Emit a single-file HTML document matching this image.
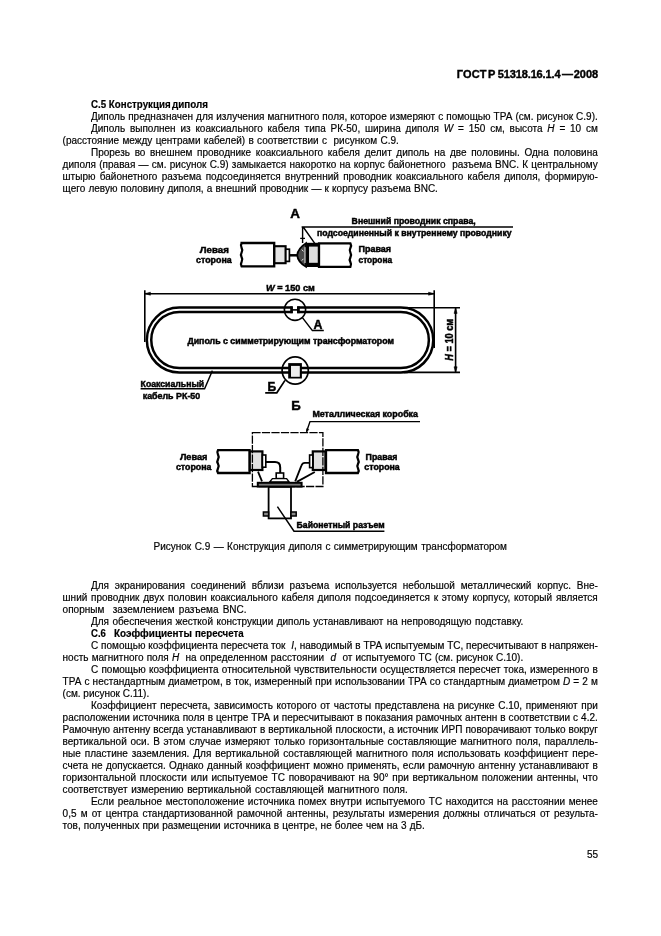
<!DOCTYPE html>
<html lang="ru"><head><meta charset="utf-8"><title>ГОСТ Р 51318.16.1.4—2008</title>
<style>
html,body{margin:0;padding:0;background:#fff;}
body{width:661px;height:936px;position:relative;overflow:hidden;font-family:"Liberation Sans",sans-serif;color:#000;-webkit-text-stroke:0.18px #000;}
.l{position:absolute;white-space:nowrap;line-height:12.0px;font-size:10px;}
.b{font-weight:bold;}
svg{position:absolute;left:0;top:0;will-change:transform;}
svg text{font-family:"Liberation Sans",sans-serif;font-weight:bold;fill:#000;stroke:#000;stroke-width:0.45px;}
#t{position:absolute;left:0;top:0;width:661px;height:936px;will-change:transform;}
</style></head><body>
<svg width="661" height="936" viewBox="0 0 661 936">
<g fill="none" stroke="#000" stroke-linecap="butt" stroke-linejoin="miter">
<!-- ===== dipole loop ===== -->
<path d="M179.3 309.8 H400.8 A30.25 30.25 0 0 1 400.8 370.3 H179.3 A30.25 30.25 0 0 1 179.3 309.8 Z" stroke-width="6.9"/>
<path d="M179.3 309.8 H400.8 A30.25 30.25 0 0 1 400.8 370.3 H179.3 A30.25 30.25 0 0 1 179.3 309.8 Z" stroke="#fff" stroke-width="1.9"/>
<!-- W dimension -->
<path d="M144.8 290.3 V342 M434.2 290.3 V348 M144.8 293.7 H434.2" stroke-width="1.6"/>
<path d="M145 293.7 l5.4 -1.5 v3 z M434 293.7 l-5.4 -1.5 v3 z" fill="#000" stroke-width="0.6"/>
<!-- H dimension -->
<path d="M404 307.8 H460 M404 372.4 H460 M455.6 307.7 V372.4" stroke-width="1.6"/>
<path d="M455.6 308 l-1.5 5.4 h3 z M455.6 372.2 l-1.5 -5.4 h3 z" fill="#000" stroke-width="0.6"/>
<!-- circle A -->
<rect x="292.6" y="305" width="4.6" height="9.6" fill="#fff" stroke="none"/>
<rect x="290.2" y="306.4" width="2.7" height="6.8" fill="#000" stroke="none"/>
<rect x="297" y="306.4" width="2.8" height="6.8" fill="#000" stroke="none"/>
<path d="M292 309.9 H298" stroke-width="1.6"/>
<circle cx="295" cy="309.8" r="10.6" stroke-width="1.6"/>
<path d="M302.4 317.6 L312.4 330.6 H323.8" stroke-width="1.5"/>
<!-- circle B -->
<ellipse cx="295.2" cy="370.5" rx="13.1" ry="13.6" stroke-width="1.7"/>
<rect x="288.2" y="363.1" width="13.7" height="15.4" fill="#000" stroke="none"/><rect x="291" y="365.9" width="8.8" height="10.9" fill="#eee" stroke="none"/>
<path d="M285 380.4 L276.8 392.8 H265.2" stroke-width="1.7"/>
<!-- coax leader -->
<path d="M140.6 388.8 H204.6 L212.4 370.6" stroke-width="1.4"/>
</g>
<g>
<text x="266" y="291.4" font-size="9.4" textLength="48.8" lengthAdjust="spacingAndGlyphs"><tspan font-style="italic">W</tspan> = 150 см</text>
<text x="187.4" y="343.9" font-size="8.6" textLength="206.6" lengthAdjust="spacingAndGlyphs">Диполь с симметрирующим трансформатором</text>
<text x="313.6" y="328.8" font-size="12.4">А</text>
<text x="267.6" y="390.9" font-size="12">Б</text>
<text x="140.6" y="387.3" font-size="8.7">Коаксиальный</text>
<text x="142.7" y="399.1" font-size="8.9">кабель РК-50</text>
<text transform="translate(453.3 360.8) rotate(-90)" font-size="10" textLength="42" lengthAdjust="spacingAndGlyphs"><tspan font-style="italic">H</tspan> = 10 см</text>
</g>
<!-- ===== view A ===== -->
<text x="290.2" y="218" font-size="13.4">А</text>
<g fill="none" stroke="#000">
<path d="M351.8 227 H513" stroke-width="1.4"/>
<path d="M301.6 227 H352 M302.6 227 V243 M303.2 227 L315.3 244.2" stroke-width="1.4"/>
<path d="M300.2 238.4 H305" stroke-width="1.3"/>
<!-- left cable -->
<path d="M241.6 243 H274.2 V266.4 H241.6 q-1.4 -2.4 0 -4.6 q1.4 -2.4 0 -4.6 q-1.4 -2.4 0 -4.7 q1.4 -2.4 0 -4.7 q-1.4 -2.4 0 -4.6 z" fill="#fff" stroke-width="2.3"/>
<rect x="274.4" y="246.2" width="11.2" height="17" fill="#e4e4e4" stroke-width="2.1"/>
<rect x="285.8" y="249.2" width="3.6" height="12.2" fill="#fff" stroke-width="1.7"/>
<path d="M289.6 255.3 H298" stroke-width="2.5"/>
<!-- dome -->
<path d="M306 243.2 C301 246.4 297.6 251 297.2 255.2 C297.6 259.6 301 264 306 266.8 Z" fill="#484848" stroke-width="1.8"/>
<path d="M305 247.2 V263 M301.8 249.6 l1.6 1.8 M301.8 260.6 l1.6 -1.8" stroke="#fff" stroke-width="0.9"/>
<!-- right narrow piece & cable -->
<rect x="306.2" y="242.8" width="13.6" height="24.2" fill="#000" stroke="none"/><rect x="309" y="246.6" width="8.9" height="16.2" fill="#dcdcdc" stroke="none"/>
<path d="M319 243.3 H350.4 q1.4 2.4 0 4.7 q-1.4 2.4 0 4.7 q1.4 2.4 0 4.7 q-1.4 2.4 0 4.7 q1.4 2.4 0 4.7 H319 z" fill="#fff" stroke-width="2.3"/>
</g>
<g>
<text x="351.6" y="223.9" font-size="8.7" textLength="124.2" lengthAdjust="spacingAndGlyphs">Внешний проводник справа,</text>
<text x="317" y="236.1" font-size="8.7" textLength="194.6" lengthAdjust="spacingAndGlyphs">подсоединенный к внутреннему проводнику</text>
<text x="199.8" y="252.8" font-size="8.8" textLength="29" lengthAdjust="spacingAndGlyphs">Левая</text>
<text x="196.1" y="262.8" font-size="8.8" textLength="35.6" lengthAdjust="spacingAndGlyphs">сторона</text>
<text x="358.5" y="251.8" font-size="8.8" textLength="32.6" lengthAdjust="spacingAndGlyphs">Правая</text>
<text x="358.5" y="263" font-size="8.8" textLength="33.6" lengthAdjust="spacingAndGlyphs">сторона</text>
</g>
<!-- ===== view B ===== -->
<text x="291.2" y="409.6" font-size="13.2">Б</text>
<g fill="none" stroke="#000">
<path d="M420 421.6 H310 L306.6 431.6" stroke-width="1.4"/>
<path d="M306.4 432.2 l0.4 -3.6 l2 0.8 z" fill="#000" stroke-width="0.6"/>
<!-- left cable -->
<path d="M218 450.2 H249.6 V473 H218 q-1.4 -2.4 0 -4.6 q1.4 -2.3 0 -4.5 q-1.4 -2.3 0 -4.6 q1.4 -2.3 0 -4.6 q-1.4 -2.3 0 -4.5 z" fill="#fff" stroke-width="2.3"/>
<rect x="249.8" y="451.4" width="12.6" height="18.6" fill="#e0e0e0" stroke-width="2.2"/>
<rect x="262.4" y="455" width="3.4" height="12.2" fill="#fff" stroke-width="1.6"/>
<!-- right cable -->
<path d="M326 450.2 H358 q1.4 2.3 0 4.5 q-1.4 2.3 0 4.6 q1.4 2.3 0 4.6 q-1.4 2.3 0 4.5 q1.4 2.4 0 4.6 H326 z" fill="#fff" stroke-width="2.3"/>
<rect x="312.8" y="451.4" width="12.6" height="18.6" fill="#e0e0e0" stroke-width="2.2"/>
<rect x="309.6" y="455" width="3.2" height="12.6" fill="#fff" stroke-width="1.6"/>
<rect x="252.4" y="432.7" width="70.5" height="53.8" stroke-width="1.3" stroke-dasharray="8.2 1.3"/>
<!-- wires -->
<path d="M265.8 462 H275 Q280.2 462 280.2 467.4 V473" stroke-width="2"/>
<path d="M309.6 462.8 H304.8 Q302.4 462.8 301.4 465.6 L295.2 481.4" stroke-width="1.8"/>
<path d="M314.8 472 L296.8 481.8" stroke-width="1.9"/>
<path d="M258 471.6 L262 481.4" stroke-width="1.8"/>
<!-- connector -->
<rect x="276.2" y="473" width="7.4" height="5.6" fill="#fff" stroke-width="1.6"/>
<path d="M272.4 478.6 H286.6 L289.2 482 H269.6 Z" fill="#fff" stroke-width="1.4"/>
<rect x="257.8" y="482.8" width="43.8" height="3.8" fill="#777" stroke-width="2"/>
<rect x="268.6" y="487" width="22.4" height="31.4" fill="#fff" stroke-width="1.8"/>
<rect x="263.4" y="512" width="5.2" height="4" fill="#888" stroke-width="1.5"/>
<rect x="291" y="512" width="5.2" height="4" fill="#888" stroke-width="1.5"/>
<path d="M277.4 506.6 L294 531.2 H384.4" stroke-width="1.5"/>
</g>
<g>
<text x="312.4" y="417.2" font-size="8.9">Металлическая коробка</text>
<text x="179.9" y="459.6" font-size="8.8" textLength="27.6" lengthAdjust="spacingAndGlyphs">Левая</text>
<text x="175.9" y="469.7" font-size="8.8" textLength="35.6" lengthAdjust="spacingAndGlyphs">сторона</text>
<text x="365.6" y="459.6" font-size="8.8">Правая</text>
<text x="364.3" y="469.7" font-size="8.8">сторона</text>
<text x="296.6" y="528.4" font-size="8.7" textLength="88" lengthAdjust="spacingAndGlyphs">Байонетный разъем</text>
</g>
</svg>

<div id="t">
<div class="l b" style="left:456.70px;top:68.19px;font-size:11.0px;-webkit-text-stroke-width:0.4px;letter-spacing:0.213px;">ГОСТ</div>
<div class="l b" style="left:497.80px;top:68.19px;font-size:11.0px;-webkit-text-stroke-width:0.4px;letter-spacing:-0.136px;">51318.16.1.4</div>
<div class="l b" style="left:487.90px;top:68.19px;font-size:11.0px;-webkit-text-stroke-width:0.4px;">Р</div>
<div class="l b" style="left:561.90px;top:68.19px;font-size:11.0px;-webkit-text-stroke-width:0.4px;">—</div>
<div class="l b" style="left:573.70px;top:68.19px;font-size:11.0px;-webkit-text-stroke-width:0.4px;">2008</div>
<div class="l b" style="left:91.00px;top:98.94px;transform-origin:0 0;transform:scaleX(0.9739);">С.5 Конструкция</div>
<div class="l" style="left:91.00px;top:110.88px;word-spacing:0.267px;">Диполь предназначен для излучения магнитного поля, которое измеряют с помощью ТРА (см. рисунок С.9).</div>
<div class="l" style="left:91.00px;top:122.81px;word-spacing:2.004px;">Диполь выполнен из коаксиального кабеля типа РК-50, ширина диполя <i>W</i> = 150 см, высота <i>H</i> = 10 см</div>
<div class="l" style="left:62.60px;top:134.75px;word-spacing:0.533px;">(расстояние между центрами кабелей) в соответствии с&nbsp; рисунком С.9.</div>
<div class="l" style="left:91.00px;top:146.69px;word-spacing:1.856px;">Прорезь во внешнем проводнике коаксиального кабеля делит диполь на две половины. Одна половина</div>
<div class="l" style="left:62.60px;top:158.63px;word-spacing:0.485px;">диполя (правая — см. рисунок С.9) замыкается накоротко на корпус байонетного&nbsp; разъема BNC. К центральному</div>
<div class="l" style="left:62.60px;top:170.58px;word-spacing:1.550px;">штырю байонетного разъема подсоединяется внутренний проводник коаксиального кабеля диполя, формирую-</div>
<div class="l" style="left:62.60px;top:182.52px;word-spacing:0.391px;">щего левую половину диполя, а внешний проводник — к корпусу разъема BNC.</div>
<div class="l b" style="left:172.20px;top:98.94px;transform-origin:0 0;transform:scaleX(0.9838);">диполя</div>
<div class="l" style="left:153.50px;top:540.93px;word-spacing:0.650px;">Рисунок С.9 — Конструкция диполя с симметрирующим трансформатором</div>
<div class="l" style="left:91.00px;top:580.24px;word-spacing:3.016px;">Для экранирования соединений вблизи разъема используется небольшой металлический корпус. Вне-</div>
<div class="l" style="left:62.60px;top:592.21px;word-spacing:0.998px;">шний проводник двух половин коаксиального кабеля диполя подсоединяется к этому корпусу, который является</div>
<div class="l" style="left:62.60px;top:604.19px;word-spacing:1.449px;">опорным&nbsp; заземлением разъема BNC.</div>
<div class="l" style="left:91.00px;top:616.16px;word-spacing:0.630px;">Для обеспечения жесткой конструкции диполь устанавливают на непроводящую подставку.</div>
<div class="l b" style="left:91.00px;top:628.13px;transform-origin:0 0;transform:scaleX(0.9574);">С.6</div>
<div class="l" style="left:91.00px;top:640.11px;word-spacing:0.083px;">С помощью коэффициента пересчета ток&nbsp; <i>I</i>, наводимый в ТРА испытуемым ТС, пересчитывают в напряжен-</div>
<div class="l" style="left:62.60px;top:652.09px;word-spacing:0.413px;">ность магнитного поля <i>H</i>&nbsp; на определенном расстоянии&nbsp; <i>d</i>&nbsp; от испытуемого ТС (см. рисунок С.10).</div>
<div class="l" style="left:91.00px;top:664.06px;word-spacing:0.426px;">С помощью коэффициента относительной чувствительности осуществляется пересчет тока, измеренного в</div>
<div class="l" style="left:62.60px;top:676.03px;word-spacing:0.338px;">ТРА с нестандартным диаметром, в ток, измеренный при использовании ТРА со стандартным диаметром <i>D</i> = 2 м</div>
<div class="l" style="left:62.60px;top:688.01px;word-spacing:-0.020px;">(см. рисунок С.11).</div>
<div class="l" style="left:91.00px;top:699.99px;word-spacing:0.871px;">Коэффициент пересчета, зависимость которого от частоты представлена на рисунке С.10, применяют при</div>
<div class="l" style="left:62.60px;top:711.96px;word-spacing:0.213px;">расположении источника поля в центре ТРА и пересчитывают в показания рамочных антенн в соответствии с 4.2.</div>
<div class="l" style="left:62.60px;top:723.94px;word-spacing:0.301px;">Рамочную антенну всегда устанавливают в вертикальной плоскости, а источник ИРП поворачивают только вокруг</div>
<div class="l" style="left:62.60px;top:735.91px;word-spacing:0.977px;">вертикальной оси. В этом случае измеряют только горизонтальные составляющие магнитного поля, параллель-</div>
<div class="l" style="left:62.60px;top:747.88px;word-spacing:1.126px;">ные пластине заземления. Для вертикальной составляющей магнитного поля использовать коэффициент пере-</div>
<div class="l" style="left:62.60px;top:759.86px;word-spacing:0.666px;">счета не допускается. Однако данный коэффициент можно применять, если рамочную антенну устанавливают в</div>
<div class="l" style="left:62.60px;top:771.84px;word-spacing:0.991px;">горизонтальной плоскости или испытуемое ТС поворачивают на 90° при вертикальном положении антенны, что</div>
<div class="l" style="left:62.60px;top:783.81px;word-spacing:0.906px;">соответствует измерению вертикальной составляющей магнитного поля.</div>
<div class="l" style="left:91.00px;top:795.78px;word-spacing:0.871px;">Если реальное местоположение источника помех внутри испытуемого ТС находится на расстоянии менее</div>
<div class="l" style="left:62.60px;top:807.76px;word-spacing:1.393px;">0,5 м от центра стандартизованной рамочной антенны, результаты измерения должны отличаться от результа-</div>
<div class="l" style="left:62.60px;top:819.74px;word-spacing:0.361px;">тов, полученных при размещении источника в центре, не более чем на 3 дБ.</div>
<div class="l b" style="left:114.30px;top:628.13px;transform-origin:0 0;transform:scaleX(0.9912);">Коэффициенты</div>
<div class="l b" style="left:195.40px;top:628.13px;transform-origin:0 0;transform:scaleX(0.9693);">пересчета</div>
<div class="l" style="left:587.00px;top:849.03px;">55</div>
</div>
</body></html>
